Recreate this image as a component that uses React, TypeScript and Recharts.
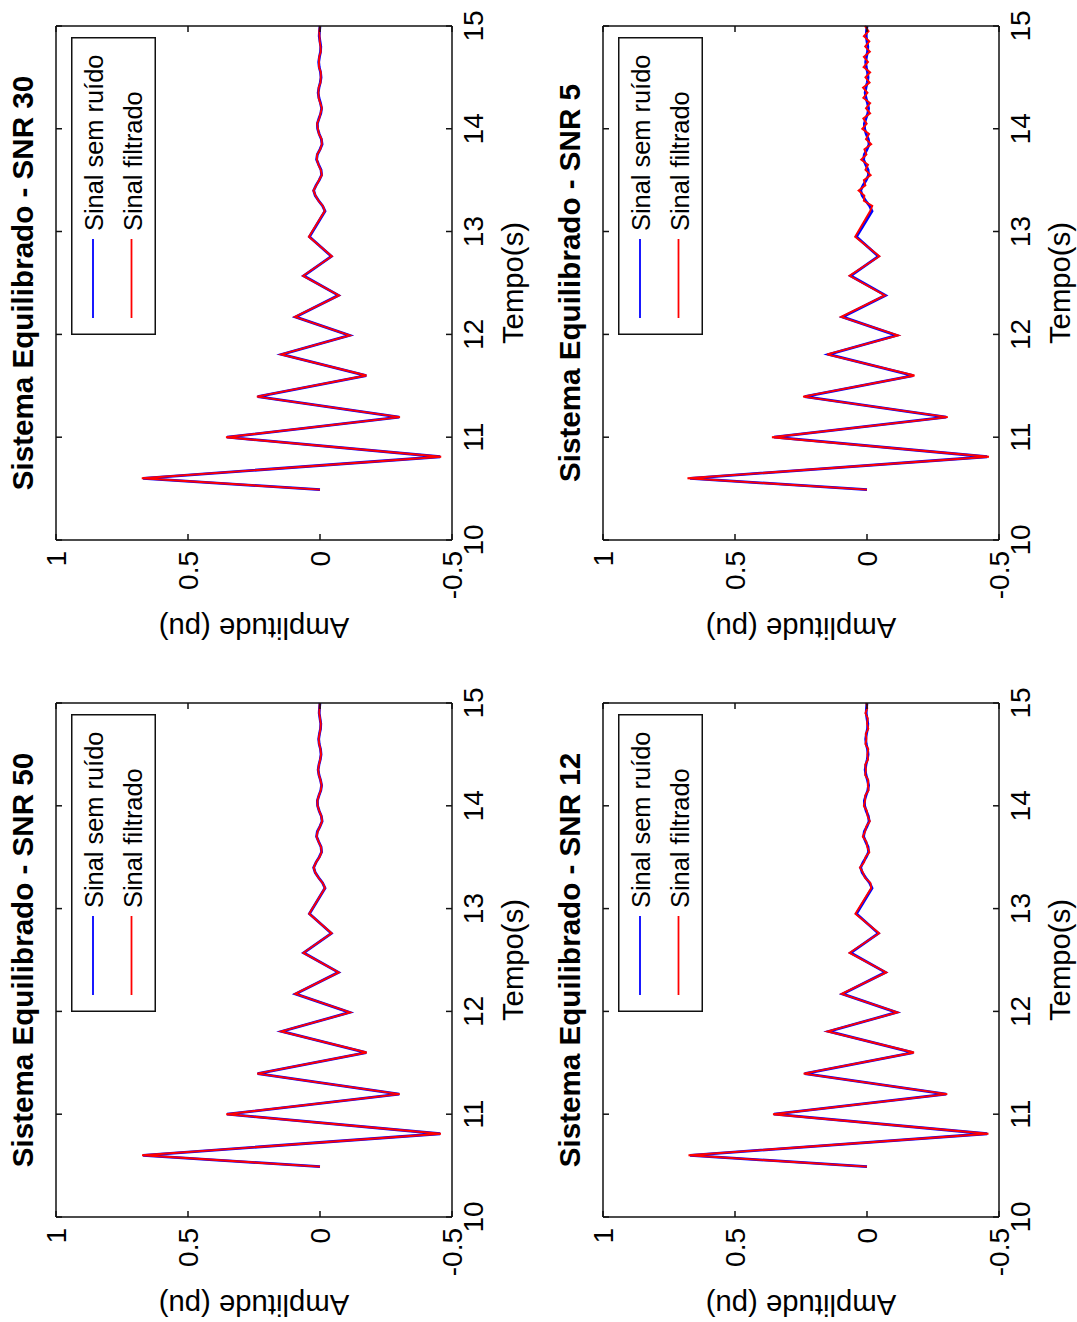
import React from 'react';
import { LineChart, Line, XAxis, YAxis, Legend } from 'recharts';

// ---- data ----
const tempo = [
  10.49, 10.6, 10.81, 11.0, 11.195, 11.395, 11.6, 11.805, 11.99, 12.17, 12.38, 12.57, 12.76, 12.95,
  13.2, 13.25, 13.3, 13.35, 13.4, 13.45, 13.5, 13.55, 13.6, 13.65, 13.7, 13.75, 13.8, 13.85, 13.9, 13.95,
  14.0, 14.05, 14.1, 14.15, 14.2, 14.25, 14.3, 14.35, 14.4, 14.45, 14.5, 14.55, 14.6, 14.65, 14.7, 14.75,
  14.8, 14.85, 14.9, 14.95, 15.0,
];

const sinalSemRuido = [
  0.0, 0.67, -0.455, 0.352, -0.3, 0.236, -0.175, 0.145, -0.112, 0.093, -0.07, 0.062, -0.043, 0.04,
  -0.019, -0.01, 0.005, 0.018, 0.024, 0.015, 0.003, -0.006, -0.004, 0.005, 0.013, 0.01, 0.0, -0.008, -0.005, 0.003,
  0.009, 0.01, 0.004, -0.003, -0.006, -0.002, 0.004, 0.007, 0.004, -0.001, -0.004, -0.002, 0.003, 0.005, 0.002, -0.002,
  -0.003, 0.0, 0.003, 0.002, 0.0,
];

const filtradoSNR50 = [
  0.0, 0.674, -0.458, 0.355, -0.302, 0.238, -0.177, 0.147, -0.114, 0.094, -0.071, 0.063, -0.044, 0.041,
  -0.019, -0.01, 0.006, 0.018, 0.024, 0.015, 0.002, -0.006, -0.004, 0.005, 0.013, 0.009, 0.0, -0.008, -0.005, 0.003,
  0.009, 0.01, 0.004, -0.003, -0.006, -0.002, 0.004, 0.007, 0.004, -0.001, -0.004, -0.002, 0.003, 0.005, 0.002, -0.002,
  -0.003, 0.0, 0.003, 0.002, 0.001,
];

const filtradoSNR30 = [
  0.0, 0.675, -0.459, 0.356, -0.303, 0.239, -0.176, 0.147, -0.113, 0.095, -0.072, 0.064, -0.045, 0.042,
  -0.018, -0.011, 0.006, 0.017, 0.025, 0.014, 0.004, -0.007, -0.003, 0.006, 0.012, 0.011, -0.001, -0.007, -0.006, 0.004,
  0.008, 0.011, 0.003, -0.002, -0.007, -0.001, 0.005, 0.006, 0.005, -0.002, -0.003, -0.003, 0.004, 0.004, 0.003, -0.003,
  -0.002, 0.001, 0.002, 0.003, 0.0,
];

const filtradoSNR12 = [
  0.0, 0.676, -0.46, 0.356, -0.304, 0.24, -0.178, 0.149, -0.115, 0.096, -0.073, 0.066, -0.046, 0.044,
  -0.016, -0.013, 0.008, 0.015, 0.027, 0.011, 0.006, -0.009, -0.001, 0.002, 0.016, 0.007, 0.003, -0.011, -0.002, 0.0,
  0.012, 0.007, 0.007, -0.006, -0.003, -0.005, 0.007, 0.004, 0.007, -0.004, -0.001, -0.005, 0.006, 0.002, 0.005, -0.005,
  0.0, -0.003, 0.006, -0.001, 0.003,
];

const filtradoSNR5 = [
  0.0, 0.68, -0.462, 0.36, -0.306, 0.242, -0.18, 0.151, -0.118, 0.098, -0.068, 0.066, -0.047, 0.045,
  -0.012, -0.02, 0.012, 0.01, 0.032, 0.006, 0.012, -0.014, 0.006, -0.004, 0.022, 0.002, 0.01, -0.016, 0.004, -0.008,
  0.018, 0.001, 0.014, -0.012, 0.004, -0.012, 0.014, -0.002, 0.015, -0.01, 0.006, -0.012, 0.013, -0.004, 0.012, -0.011,
  0.007, -0.009, 0.012, -0.006, 0.008,
];

const xTicks = [10, 11, 12, 13, 14, 15];
const yTicks = [-0.5, 0, 0.5, 1];
const titulos = [
  'Sistema Equilibrado - SNR 50',
  'Sistema Equilibrado - SNR 30',
  'Sistema Equilibrado - SNR 12',
  'Sistema Equilibrado - SNR 5',
];
const nomeSemRuido = 'Sinal sem ruído';
const nomeFiltrado = 'Sinal filtrado';
const rotuloX = 'Tempo(s)';
const rotuloY = 'Amplitude (pu)';

// ---- layout (figure drawn in its original landscape orientation, then rotated) ----
const FIG_W = 1322;
const FIG_H = 1077;
const Y_AXIS_W = 105;
const PLOT_W = 514;
const PLOT_H = 396;
const M_TOP = 55;
const TOP_AXIS_H = 1;
const M_RIGHT = 19;
const RIGHT_AXIS_W = 1;
const X_AXIS_H = 90;
const CHART_W = Y_AXIS_W + PLOT_W + RIGHT_AXIS_W + M_RIGHT;
const CHART_H = M_TOP + TOP_AXIS_H + PLOT_H + X_AXIS_H;
const PLOT_TOP = M_TOP + TOP_AXIS_H;
const FONT = '"Liberation Sans", Arial, Helvetica, sans-serif';
const AXIS_COLOR = '#111';
const ORDER = ['semRuido', 'filtrado'];

const LegendBox = (props: any) => {
  const raw = (props && props.payload) || [];
  const payload = [...raw].sort(
    (a: any, b: any) => ORDER.indexOf(String(a.dataKey)) - ORDER.indexOf(String(b.dataKey))
  );
  return (
    <svg width={298} height={85} style={{ display: 'block' }}>
      <rect x={0.75} y={0.75} width={296.5} height={83.5} fill="#fff" stroke={AXIS_COLOR} strokeWidth={1.5} />
      {payload.map((e: any, i: number) => (
        <g key={i}>
          <line x1={17} x2={96} y1={22 + i * 38.5} y2={22 + i * 38.5} stroke={e.color} strokeWidth={1.8} />
          <text x={104} y={32 + i * 38.7} fontSize={25.4} fontFamily={FONT} fill="#000">
            {e.value}
          </text>
        </g>
      ))}
    </svg>
  );
};

function Subplot({ titulo, filtrado, left, top }: { titulo: string; filtrado: number[]; left: number; top: number }) {
  const data = tempo.map((t, i) => ({ t, semRuido: sinalSemRuido[i], filtrado: filtrado[i] }));
  const tickStyle = { fill: '#000', fontSize: 28, fontFamily: FONT };
  const cx = Y_AXIS_W + PLOT_W / 2;
  const axisLine = { stroke: AXIS_COLOR, strokeWidth: 1.5 };
  return (
    <div style={{ position: 'absolute', left, top, width: CHART_W, height: CHART_H }}>
      <LineChart
        width={CHART_W}
        height={CHART_H}
        data={data}
        margin={{ top: M_TOP, right: M_RIGHT, bottom: 0, left: 0 }}
      >
        <XAxis
          xAxisId="bottom"
          dataKey="t"
          type="number"
          domain={[10, 15]}
          ticks={xTicks}
          interval={0}
          height={X_AXIS_H}
          tickSize={-6}
          tickMargin={17}
          tick={tickStyle}
          axisLine={axisLine}
          tickLine={axisLine}
        />
        <XAxis
          xAxisId="top"
          orientation="top"
          dataKey="t"
          type="number"
          domain={[10, 15]}
          ticks={xTicks}
          interval={0}
          height={TOP_AXIS_H}
          tickSize={-6}
          tickFormatter={() => ''}
          axisLine={axisLine}
          tickLine={axisLine}
        />
        <YAxis
          yAxisId="left"
          type="number"
          domain={[-0.5, 1]}
          ticks={yTicks}
          interval={0}
          width={Y_AXIS_W}
          tickSize={-6}
          tickMargin={17}
          tick={tickStyle}
          axisLine={axisLine}
          tickLine={axisLine}
        />
        <YAxis
          yAxisId="right"
          orientation="right"
          type="number"
          domain={[-0.5, 1]}
          ticks={yTicks}
          interval={0}
          width={RIGHT_AXIS_W}
          tickSize={-6}
          tickFormatter={() => ''}
          axisLine={axisLine}
          tickLine={axisLine}
        />
        <Line
          name={nomeSemRuido}
          dataKey="semRuido"
          xAxisId="bottom"
          yAxisId="left"
          type="linear"
          stroke="#0000ff"
          strokeWidth={2.8}
          dot={false}
          activeDot={false}
          isAnimationActive={false}
        />
        <Line
          name={nomeFiltrado}
          dataKey="filtrado"
          xAxisId="top"
          yAxisId="right"
          type="linear"
          stroke="#ff0000"
          strokeWidth={1.9}
          dot={false}
          activeDot={false}
          isAnimationActive={false}
        />
        <Legend
          layout="vertical"
          align="center"
          verticalAlign="middle"
          content={LegendBox}
          wrapperStyle={{ left: 310, top: 71, width: 298, height: 85 }}
        />
      </LineChart>
      <svg
        width={CHART_W}
        height={CHART_H}
        style={{ position: 'absolute', left: 0, top: 0, pointerEvents: 'none', overflow: 'visible' }}
      >
        <text x={cx} y={33.3} textAnchor="middle" fontFamily={FONT} fontWeight="bold" fontSize={29.6} fill="#000">
          {titulo}
        </text>
        <text x={cx} y={523} textAnchor="middle" fontFamily={FONT} fontSize={29.3} fill="#000">
          {rotuloX}
        </text>
        <text
          transform={`translate(27.5, ${PLOT_TOP + PLOT_H / 2}) rotate(-90)`}
          textAnchor="middle"
          fontFamily={FONT}
          fontSize={29.3}
          fill="#000"
        >
          {rotuloY}
        </text>
      </svg>
    </div>
  );
}

export default function App() {
  return (
    <div
      style={{
        position: 'fixed',
        left: 0,
        top: 0,
        width: 1077,
        height: 1322,
        overflow: 'hidden',
        background: '#fff',
      }}
    >
      <div
        style={{
          position: 'absolute',
          left: 0,
          top: 0,
          width: FIG_W,
          height: FIG_H,
          transformOrigin: '0 0',
          transform: `translate(0px, ${FIG_W}px) rotate(-90deg)`,
          background: '#fff',
        }}
      >
        <Subplot titulo={titulos[0]} filtrado={filtradoSNR50} left={0} top={0} />
        <Subplot titulo={titulos[1]} filtrado={filtradoSNR30} left={677} top={0} />
        <Subplot titulo={titulos[2]} filtrado={filtradoSNR12} left={0} top={547} />
        <Subplot titulo={titulos[3]} filtrado={filtradoSNR5} left={677} top={547} />
      </div>
    </div>
  );
}
